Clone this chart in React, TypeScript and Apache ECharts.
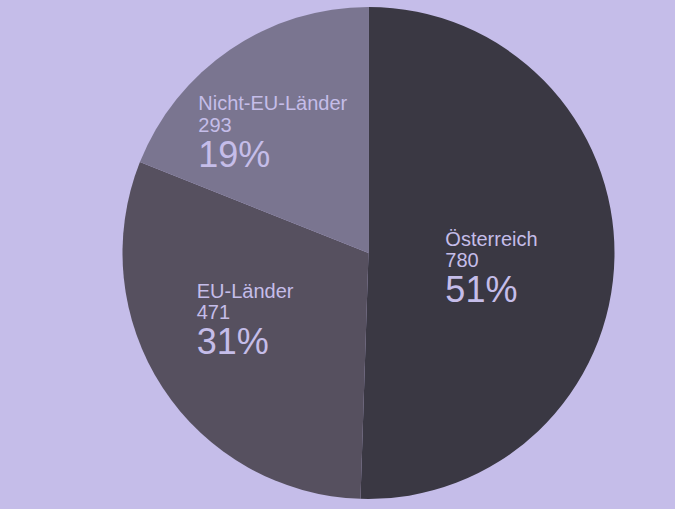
import React, { useEffect, useRef } from "react";
import * as echarts from "echarts";

const categories = ["Österreich", "EU-Länder", "Nicht-EU-Länder"];
const values = [780, 471, 293];
const percentLabels = ["51%", "31%", "19%"];

const colors = ["#3a3843", "#56505f", "#7a7590"];
const labelShift: [number, number][] = [
  [-3, 13],
  [-18, -2],
  [-25, -16],
];
const FONT = "Liberation Sans, Arial, sans-serif";
const TEXT = "#c5bde9";

export default function App() {
  const ref = useRef<HTMLDivElement>(null);
  useEffect(() => {
    if (!ref.current) return;
    const chart = echarts.init(ref.current, undefined, { renderer: "svg" });
    const data = categories.map((name, i) => ({
      name,
      value: values[i],
      itemStyle: { color: colors[i] },
    }));
    chart.setOption({
      animation: false,
      backgroundColor: "#c5bde9",
      series: [
        {
          type: "pie",
          center: [368.5, 253],
          radius: [0, 246],
          startAngle: 90,
          clockwise: true,
          data,
          itemStyle: { borderWidth: 0 },
          label: {
            show: true,
            position: "inside",
            color: TEXT,
            fontFamily: FONT,
            formatter: (p: any) =>
              `{n|${p.name}}\n{v|${p.value}}\n{p|${percentLabels[p.dataIndex]}}`,
            rich: {
              n: { fontSize: 20, lineHeight: 22, align: "left", color: TEXT, fontFamily: FONT },
              v: { fontSize: 20, lineHeight: 21, align: "left", color: TEXT, fontFamily: FONT },
              p: { fontSize: 36, lineHeight: 38, align: "left", color: TEXT, fontFamily: FONT },
            },
          },
          labelLayout: (params: any) => ({
            dx: labelShift[params.dataIndex][0],
            dy: labelShift[params.dataIndex][1],
          }),
          labelLine: { show: false },
          emphasis: { disabled: true },
        },
      ],
    });
    return () => chart.dispose();
  }, []);
  return (
    <div
      ref={ref}
      style={{ position: "fixed", left: 0, top: 0, width: 675, height: 509, background: "#c5bde9" }}
    />
  );
}
